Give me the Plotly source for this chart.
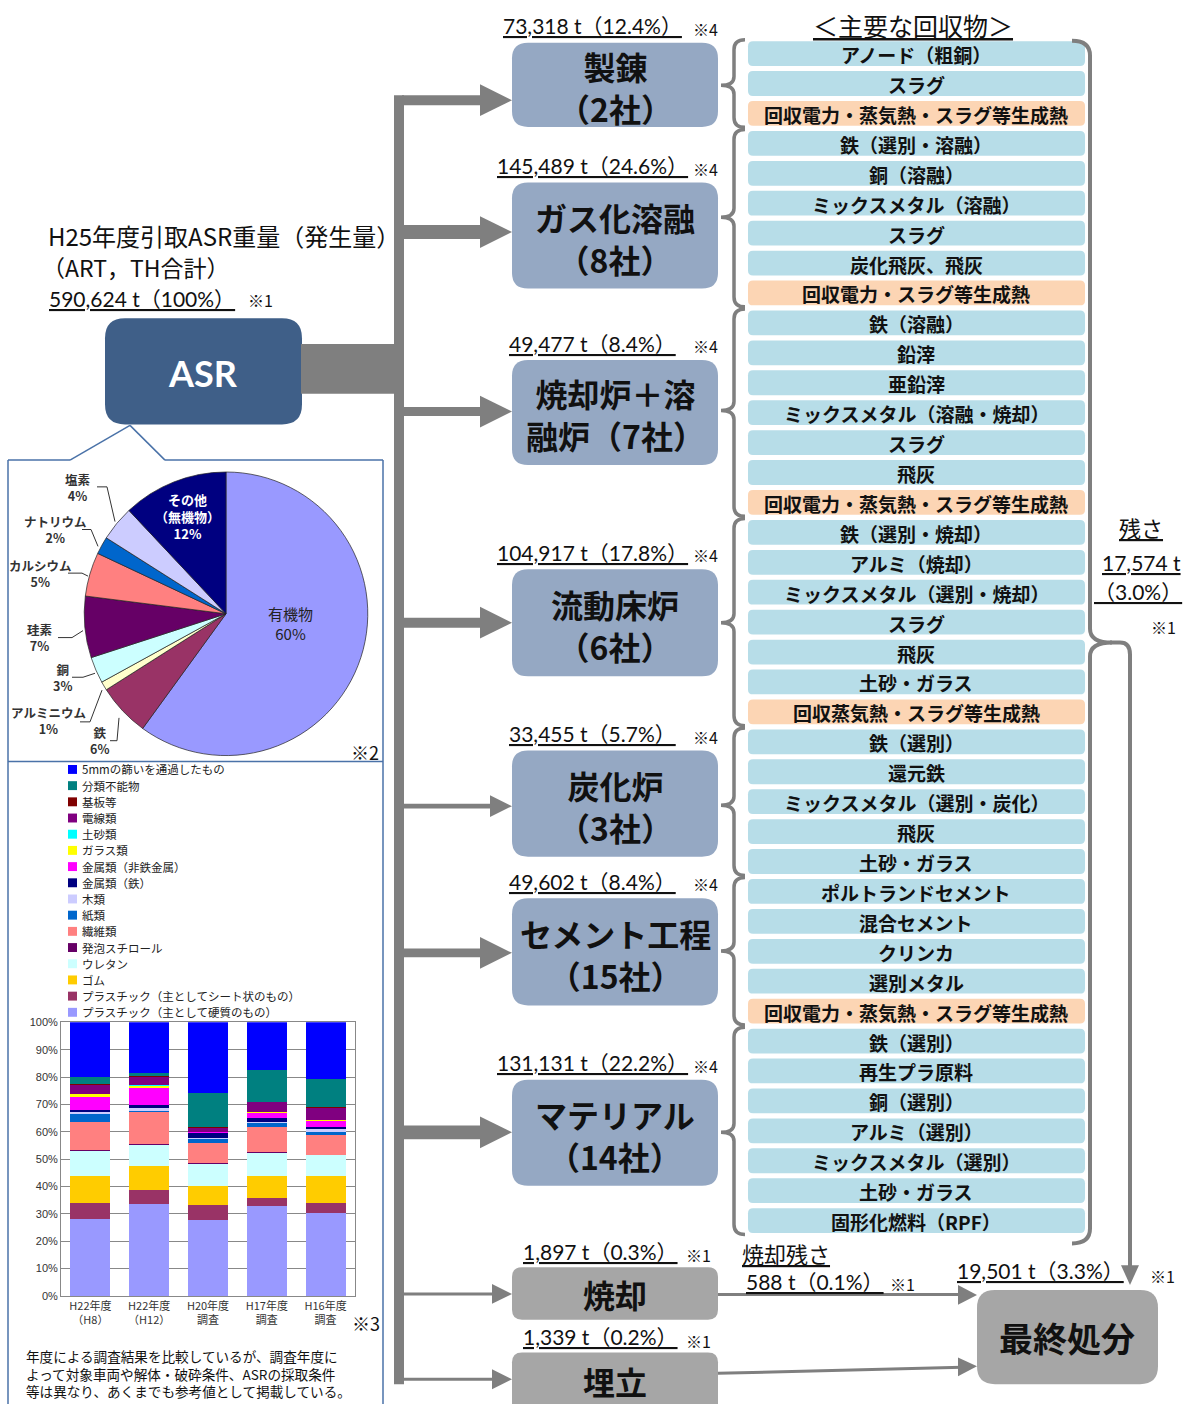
import plotly.graph_objects as go

W, H = 1195, 1410
JP = "Noto Sans CJK JP"
NUM = "Lato, Noto Sans CJK JP"
GRAY = "#7F7F7F"

# ---------------- data ----------------
asr_tonnes = 590624
asr_pct = 100

process_names = ["製錬<br>（2社）", "ガス化溶融<br>（8社）", "焼却炉＋溶<br>融炉（7社）",
                 "流動床炉<br>（6社）", "炭化炉<br>（3社）", "セメント工程<br>（15社）",
                 "マテリアル<br>（14社）"]
process_tonnes = [73318, 145489, 49477, 104917, 33455, 49602, 131131]
process_pct = [12.4, 24.6, 8.4, 17.8, 5.7, 8.4, 22.2]

disposal_names = ["焼却", "埋立"]
disposal_tonnes = [1897, 1339]
disposal_pct = [0.3, 0.2]

residue_tonnes = 17574
residue_pct = 3.0
incin_residue_tonnes = 588
incin_residue_pct = 0.1
final_tonnes = 19501
final_pct = 3.3

recovered_smelting = ["アノード（粗銅）", "スラグ", "回収電力・蒸気熱・スラグ等生成熱"]
recovered_gasification = ["鉄（選別・溶融）", "銅（溶融）", "ミックスメタル（溶融）", "スラグ",
                          "炭化飛灰、飛灰", "回収電力・スラグ等生成熱"]
recovered_incin_melt = ["鉄（溶融）", "鉛滓", "亜鉛滓", "ミックスメタル（溶融・焼却）", "スラグ",
                        "飛灰", "回収電力・蒸気熱・スラグ等生成熱"]
recovered_fluidized = ["鉄（選別・焼却）", "アルミ（焼却）", "ミックスメタル（選別・焼却）", "スラグ",
                       "飛灰", "土砂・ガラス", "回収蒸気熱・スラグ等生成熱"]
recovered_carbonize = ["鉄（選別）", "還元鉄", "ミックスメタル（選別・炭化）", "飛灰", "土砂・ガラス"]
recovered_cement = ["ポルトランドセメント", "混合セメント", "クリンカ", "選別メタル",
                    "回収電力・蒸気熱・スラグ等生成熱"]
recovered_material = ["鉄（選別）", "再生プラ原料", "銅（選別）", "アルミ（選別）",
                      "ミックスメタル（選別）", "土砂・ガラス", "固形化燃料（RPF）"]
recovered_groups = [recovered_smelting, recovered_gasification, recovered_incin_melt,
                    recovered_fluidized, recovered_carbonize, recovered_cement, recovered_material]

pie_labels = ["有機物", "鉄", "アルミニウム", "銅", "珪素", "カルシウム", "ナトリウム", "塩素", "その他（無機物）"]
pie_values = [60, 6, 1, 3, 7, 5, 2, 4, 12]
pie_colors = ["#9999FF", "#993366", "#FFFFCC", "#CCFFFF", "#660066", "#FF8080", "#0066CC", "#CCCCFF", "#000080"]

bar_categories = ["H22年度<br>（H8）", "H22年度<br>（H12）", "H20年度<br>調査", "H17年度<br>調査", "H16年度<br>調査"]
components = ["プラスチック（主として硬質のもの）", "プラスチック（主としてシート状のもの）", "ゴム", "ウレタン",
              "発泡スチロール", "繊維類", "紙類", "木類", "金属類（鉄）", "金属類（非鉄金属）", "ガラス類",
              "土砂類", "電線類", "基板等", "分類不能物", "5mmの篩いを通過したもの"]
component_colors = ["#9999FF", "#993366", "#FFCC00", "#CCFFFF", "#660066", "#FF8080", "#0066CC", "#CCCCFF",
                    "#000080", "#FF00FF", "#FFFF00", "#00FFFF", "#800080", "#800000", "#008080", "#0000FF"]
share_h22_h8 = [28.0, 5.8, 10.2, 9.1, 0.2, 10.2, 3.2, 0.4, 0.8, 4.8, 1.1, 0.1, 3.2, 0.3, 2.6, 20.0]
share_h22_h12 = [33.6, 5.2, 8.5, 7.9, 0.5, 11.7, 0.3, 0.9, 1.2, 6.4, 0.7, 0.1, 3.0, 0.2, 1.2, 18.6]
share_h20 = [27.8, 5.5, 6.9, 8.2, 0.2, 7.3, 1.6, 0.2, 2.0, 0.2, 0.0, 0.0, 1.5, 0.3, 12.6, 25.7]
share_h17 = [32.7, 3.0, 8.1, 8.5, 0.3, 9.0, 1.8, 0.2, 1.6, 1.6, 0.3, 0.0, 3.7, 0.2, 11.5, 17.5]
share_h16 = [30.4, 3.7, 9.7, 7.6, 0.2, 7.1, 1.2, 1.2, 0.6, 2.4, 0.1, 0.0, 4.4, 0.3, 10.4, 20.7]
bar_shares = [share_h22_h8, share_h22_h12, share_h20, share_h17, share_h16]

# ---------------- layout constants ----------------
proc_box = [(37, 122), (178, 285), (357, 463), (568, 676), (751, 858), (900, 1008), (1083, 1190)]
proc_arrow_y = [95, 228, 409, 622, 807, 955, 1136]
proc_arrow_w = [10, 14, 9, 10, 5, 9, 14]
brace_tip_y = [80, 213, 408, 622, 806, 953, 1136]
disp_box = [(1272, 1325), (1358, 1425)]
disp_arrow_y = [1299, 1385]
ITEM_Y0, ITEM_STEP = 48, 30.18

fig = go.Figure()
shapes = []
annots = []


def rrect_path(x0, y0, x1, y1, r):
    return (f"M {x0+r},{y0} L {x1-r},{y0} Q {x1},{y0} {x1},{y0+r} L {x1},{y1-r} Q {x1},{y1} {x1-r},{y1} "
            f"L {x0+r},{y1} Q {x0},{y1} {x0},{y1-r} L {x0},{y0+r} Q {x0},{y0} {x0+r},{y0} Z")


def rbox(x0, y0, x1, y1, r, fill):
    shapes.append(dict(type="path", path=rrect_path(x0, y0, x1, y1, r), fillcolor=fill,
                       line=dict(width=0), xref="x", yref="y", layer="above"))


def rect(x0, y0, x1, y1, fill):
    shapes.append(dict(type="rect", x0=x0, x1=x1, y0=y0, y1=y1, fillcolor=fill,
                       line=dict(width=0), xref="x", yref="y", layer="above"))


def poly(pts, fill):
    p = "M " + " L ".join(f"{a},{b}" for a, b in pts) + " Z"
    shapes.append(dict(type="path", path=p, fillcolor=fill, line=dict(width=0), xref="x", yref="y"))


def line(x0, y0, x1, y1, color, width):
    shapes.append(dict(type="line", x0=x0, y0=y0, x1=x1, y1=y1, line=dict(color=color, width=width),
                       xref="x", yref="y"))


def path(p, color, width):
    shapes.append(dict(type="path", path=p, line=dict(color=color, width=width), xref="x", yref="y"))


def txt(x, y, s, size, color="black", family=JP, xanchor="center", yanchor="middle", align="center"):
    annots.append(dict(x=x, y=y, xref="x", yref="y", text=s, showarrow=False,
                       font=dict(size=size, color=color, family=family),
                       xanchor=xanchor, yanchor=yanchor, align=align))


def harrow(x0, x1, y, w, hl, hh):
    rect(x0, y - w / 2, x1 - hl + 1, y + w / 2, GRAY)
    poly([(x1 - hl, y - hh), (x1, y), (x1 - hl, y + hh)], GRAY)


# ---- left header text & ASR box ----
txt(46, 231, "H25年度引取ASR重量（発生量）", 24, "#111", xanchor="left")
txt(40, 263, "（ART，TH合計）", 23, "#111", xanchor="left")
txt(47, 295, f"<u>{asr_tonnes:,} t（{asr_pct}%）</u>", 21, "#111", NUM, xanchor="left")
txt(246, 297, "※1", 16, "#111", xanchor="left")
rbox(105, 315, 302, 422, 20, "#3F5F88")
txt(203, 370, "<b>ASR</b>", 36, "white", "Lato, Noto Sans CJK JP")

# ---- trunk ----
rect(301, 341, 400, 391, GRAY)
rect(394, 90, 404, 1390, GRAY)

# ---- process boxes ----
for i, (name, t, p) in enumerate(zip(process_names, process_tonnes, process_pct)):
    y0, y1 = proc_box[i]
    rbox(512, y0, 718, y1, 16, "#95A8C3")
    txt(615, (y0 + y1) / 2 + 2, f"<b>{name}</b>", 32, "#111")
    txt(592, y0 - 17, f"<u>{t:,} t（{p}%）</u>", 21, "#111", NUM)
    txt(705, y0 - 14, "※4", 16, "#111")
    w = proc_arrow_w[i]
    if w >= 8:
        harrow(402, 512, proc_arrow_y[i], w, 32, 16)
    else:
        harrow(402, 512, proc_arrow_y[i], w, 22, 11)

# ---- disposal boxes ----
for i, (name, t, p) in enumerate(zip(disposal_names, disposal_tonnes, disposal_pct)):
    y0, y1 = disp_box[i]
    rbox(512, y0, 718, y1, 10, "#A6A6A6")
    txt(615, min((y0 + y1) / 2, 1386) + 1, f"<b>{name}</b>", 32, "#111")
    txt(600, y0 - 16, f"<u>{t:,} t（{p}%）</u>", 21, "#111", NUM)
    txt(698, y0 - 12, "※1", 16, "#111")
    harrow(402, 512, disp_arrow_y[i], 3, 20, 10)

# ---- final disposal ----
rbox(977, 1295, 1158, 1390, 18, "#A6A6A6")
txt(1067, 1343, "<b>最終処分</b>", 34, "#111")
txt(1040, 1275, f"<u>{final_tonnes:,} t（{final_pct}%）</u>", 21, "#111", NUM)
txt(1162, 1281, "※1", 16, "#111")
# incineration -> final
rect(718, 1298, 962, 1301, GRAY)
poly([(958, 1290), (977, 1300), (958, 1310)], GRAY)
line(718, 1379, 962, 1373, GRAY, 3)
poly([(958, 1363), (977, 1372), (958, 1382)], GRAY)
txt(786, 1258, "<u>焼却残さ</u>", 22, "#111")
txt(815, 1286, f"<u>{incin_residue_tonnes} t（{incin_residue_pct}%）</u>", 21, "#111", NUM)
txt(902, 1289, "※1", 16, "#111")

# ---- recovered items ----
txt(913, 19, "<u>＜主要な回収物＞</u>", 25, "#111")
k = 0
for g, items in enumerate(recovered_groups):
    ys = []
    for it in items:
        y = ITEM_Y0 + ITEM_STEP * k
        ys.append(y)
        fill = "#FCD5B4" if it.startswith("回収") else "#B7DDE8"
        rbox(748, y - 12.5, 1085, y + 12.5, 5, fill)
        txt(916, y + 1, f"<b>{it}</b>", 19, "#111")
        k += 1
    top, bot, tip = ys[0] - 14, ys[-1] + 14, brace_tip_y[g]
    path(f"M 745,{top} Q 734,{top} 734,{top+10} L 734,{tip-9} Q 734,{tip} 721,{tip} "
         f"Q 734,{tip} 734,{tip+9} L 734,{bot-10} Q 734,{bot} 745,{bot}", GRAY, 3.5)

# ---- right brace & residue ----
path("M 1072,35 Q 1090,35 1090,50 L 1090,628 Q 1090,642 1112,642 Q 1090,642 1090,656 "
     "L 1090,1233 Q 1090,1248 1072,1248", GRAY, 4)
path("M 1110,642 L 1120,642 Q 1130,642 1130,654 L 1130,1272", GRAY, 4)
poly([(1121, 1270), (1139, 1270), (1130, 1290)], GRAY)
txt(1141, 525, "<u>残さ</u>", 22, "#111")
txt(1141, 561, f"<u>{residue_tonnes:,} t</u>", 21, "#111", NUM)
txt(1138, 591, f"<u>（{residue_pct:.1f}%）</u>", 21, "#111", NUM)
txt(1163, 626, "※1", 16, "#111")

# ---- panel borders & callout ----
BL = "#4A72A8"
line(130, 423, 70, 458, BL, 1.5)
line(130, 423, 165, 458, BL, 1.5)
line(8, 458, 70, 458, BL, 1.5)
line(165, 458, 383, 458, BL, 1.5)
line(8, 458, 8, 1410, BL, 1.5)
line(383, 458, 383, 1410, BL, 1.5)
line(8, 762, 383, 762, BL, 1.5)

# ---- pie ----
fig.add_trace(go.Pie(labels=pie_labels, values=pie_values, sort=False, direction="clockwise", rotation=0,
                     textinfo="none", hoverinfo="skip", showlegend=False,
                     marker=dict(colors=pie_colors, line=dict(color="#222", width=0.7)),
                     domain=dict(x=[83 / W, 369 / W], y=[1 - 756 / H, 1 - 470 / H])))
PC = "#333"
pie_text_pos = [(78, 486, "塩素<br>4%"), (55, 528, "ナトリウム<br>2%"), (40, 572, "カルシウム<br>5%"),
                (40, 637, "珪素<br>7%"), (62, 677, "銅<br>3%"), (48, 721, "アルミニウム<br>1%"),
                (99, 741, "鉄<br>6%")]
for x, y, s in pie_text_pos:
    txt(x, y, f"<b>{s}</b>", 12.5, PC)
txt(187, 515, "<b>その他<br>（無機物）<br>12%</b>", 13, "white")
txt(290, 623, "有機物<br>60%", 15, "#222")
for pts in [[(97, 485), (107, 485), (115, 520)], [(82, 528), (91, 528), (98, 545)],
            [(68, 572), (82, 572), (88, 575)], [(58, 637), (72, 637), (83, 630)],
            [(72, 677), (83, 677), (95, 673)], [(80, 722), (90, 722), (102, 690)],
            [(110, 741), (117, 741), (119, 718)]]:
    path("M " + " L ".join(f"{a},{b}" for a, b in pts), "#333", 1)
txt(365, 752, "※2", 18, "#111")

# ---- stacked bars ----
for ci, (name, col) in enumerate(zip(components, component_colors)):
    fig.add_trace(go.Bar(x=bar_categories, y=[s[ci] for s in bar_shares], name=name,
                         marker=dict(color=col, line=dict(width=0)), width=0.68,
                         xaxis="x2", yaxis="y2", showlegend=False, hoverinfo="skip"))
# manual legend (top = last component)
for i, (name, col) in enumerate(reversed(list(zip(components, component_colors)))):
    y = 770 + 16.33 * i
    rect(68, y - 4.5, 77, y + 4.5, col)
    txt(80, y, name, 11.5, "#222", xanchor="left")
txt(366, 1328, "※3", 18, "#111")
txt(24, 1379, "年度による調査結果を比較しているが、調査年度に<br>よって対象車両や解体・破砕条件、ASRの採取条件<br>"
    "等は異なり、あくまでも参考値として掲載している。", 13.6, "#111", xanchor="left", align="left")

fig.update_layout(
    width=W, height=H, autosize=False, margin=dict(l=0, r=0, t=0, b=0, pad=0),
    paper_bgcolor="white", plot_bgcolor="rgba(0,0,0,0)",
    barmode="stack", showlegend=False,
    xaxis=dict(range=[0, W], visible=False, domain=[0, 1], fixedrange=True),
    yaxis=dict(range=[H, 0], visible=False, domain=[0, 1], fixedrange=True),
    xaxis2=dict(domain=[61 / W, 355 / W], anchor="y2", showline=True, mirror=True, linecolor="#888",
                tickfont=dict(size=11, color="#333", family=JP), ticks=""),
    yaxis2=dict(domain=[1 - 1301 / H, 1 - 1025 / H], anchor="x2", range=[0, 100], dtick=10, ticksuffix="%",
                showline=True, mirror=True, linecolor="#888", gridcolor="#888", gridwidth=1,
                tickfont=dict(size=11, color="#333", family="Liberation Sans")),
    shapes=shapes, annotations=annots,
)
fig.write_html("out.html", config={"displayModeBar": False, "responsive": False})
with open("out.html", encoding="utf-8") as f:
    html = f.read()
css = ("<style>html,body{margin:0;padding:0;overflow:hidden;width:1195px;height:1410px;}"
       ".plotly-graph-div{position:absolute !important;top:0;left:0;}</style>")
html = html.replace("<head>", "<head>" + css, 1)
with open("out.html", "w", encoding="utf-8") as f:
    f.write(html)
